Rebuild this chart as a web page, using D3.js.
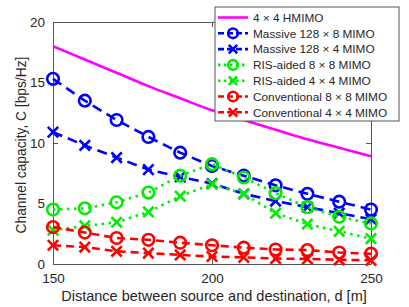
<!DOCTYPE html>
<html>
<head>
<meta charset="utf-8">
<script src="https://cdn.jsdelivr.net/npm/d3@7"></script>
<style>
  body { margin: 0; background: #fff; }
  svg { display: block; font-family: "Liberation Sans", Arial, sans-serif; }
</style>
</head>
<body>
<div id="chart"></div>
<script>
// data
const distances = [150, 160, 170, 180, 190, 200, 210, 220, 230, 240, 250];
const hmimo4x4     = [18.0, 16.9, 15.8, 14.7, 13.7, 12.7, 11.9, 11.1, 10.3, 9.6, 8.9];
const massive128x8 = [15.3, 13.5, 11.9, 10.5, 9.2, 8.1, 7.3, 6.5, 5.8, 5.15, 4.5];
const massive128x4 = [10.9, 9.8, 8.8, 7.8, 7.2, 6.65, 5.8, 5.2, 4.7, 4.2, 3.7];
const ris8x8       = [4.5, 4.6, 5.1, 5.9, 7.3, 8.25, 7.15, 5.85, 4.7, 3.9, 3.35];
const ris4x4       = [2.8, 3.15, 3.45, 4.3, 5.6, 6.6, 5.8, 4.2, 3.3, 2.7, 2.1];
const conv8x8      = [3.05, 2.6, 2.15, 2.0, 1.76, 1.55, 1.35, 1.2, 1.15, 0.95, 0.85];
const conv4x4      = [1.55, 1.4, 1.05, 0.9, 0.75, 0.62, 0.55, 0.45, 0.42, 0.35, 0.3];
const xTicks = [150, 200, 250];
const yTicks = [0, 5, 10, 15, 20];

const series = [
    { name: "4 \u00d7 4 HMIMO", values: hmimo4x4, color: "#ff00ff", dash: null, marker: null },
    { name: "Massive 128 \u00d7 8 MIMO", values: massive128x8, color: "#0000ff", dash: "10,6", marker: "o" },
    { name: "Massive 128 \u00d7 4 MIMO", values: massive128x4, color: "#0000ff", dash: "10,6", marker: "x" },
    { name: "RIS-aided 8 \u00d7 8 MIMO", values: ris8x8, color: "#00ee00", dash: "2.5,4.5", marker: "o" },
    { name: "RIS-aided 4 \u00d7 4 MIMO", values: ris4x4, color: "#00ee00", dash: "2.5,4.5", marker: "x" },
    { name: "Conventional 8 \u00d7 8 MIMO", values: conv8x8, color: "#ff0000", dash: "8,5", marker: "o" },
    { name: "Conventional 4 \u00d7 4 MIMO", values: conv4x4, color: "#ff0000", dash: "8,5", marker: "x" }
];

const W = 409, H = 307;
const margin = { left: 53, right: 38, top: 22, bottom: 43 };
const width = W - margin.left - margin.right;
const height = H - margin.top - margin.bottom;
const axisColor = "#555";
const textColor = "#262626";

const svgRoot = d3.select("#chart").append("svg")
    .attr("width", W)
    .attr("height", H);

const svg = svgRoot.append("g")
    .attr("transform", "translate(" + margin.left + "," + margin.top + ")");

const x = d3.scaleLinear().domain([150, 250]).range([0, width]);
const y = d3.scaleLinear().domain([0, 20]).range([height, 0]);

// axes box with inward ticks on all sides
svg.append("g")
    .attr("transform", "translate(0," + height + ")")
    .call(d3.axisBottom(x).tickValues(xTicks).tickSizeInner(-5).tickSizeOuter(0).tickPadding(9))
    .call(g => g.selectAll("text").attr("font-size", 13.5).attr("fill", textColor));
svg.append("g")
    .call(d3.axisTop(x).tickValues(xTicks).tickSizeInner(-5).tickSizeOuter(0).tickFormat(""));
svg.append("g")
    .call(d3.axisLeft(y).tickValues(yTicks).tickSizeInner(-5).tickSizeOuter(0).tickPadding(8))
    .call(g => g.selectAll("text").attr("font-size", 13.5).attr("fill", textColor));
svg.append("g")
    .attr("transform", "translate(" + width + ",0)")
    .call(d3.axisRight(y).tickValues(yTicks).tickSizeInner(-5).tickSizeOuter(0).tickFormat(""));
svg.selectAll(".domain, .tick line").attr("stroke", axisColor);
svg.selectAll(".tick text").attr("font-family", "Liberation Sans, Arial, sans-serif");

// axis labels
svg.append("text")
    .attr("x", width / 2 + 2)
    .attr("y", height + 37)
    .attr("text-anchor", "middle")
    .attr("font-size", 14.5)
    .attr("fill", textColor)
    .text("Distance between source and destination, d [m]");

svg.append("text")
    .attr("transform", "rotate(-90)")
    .attr("x", -height / 2 - 2)
    .attr("y", -27)
    .attr("text-anchor", "middle")
    .attr("font-size", 13.8)
    .attr("fill", textColor)
    .text("Channel capacity, C [bps/Hz]");

function drawMarker(g, type, cx, cy, color, r) {
    if (type === "o") {
        g.append("circle")
            .attr("cx", cx).attr("cy", cy).attr("r", r)
            .attr("fill", "none").attr("stroke", color).attr("stroke-width", 2.6);
    } else if (type === "x") {
        g.append("path")
            .attr("d", "M" + (cx - r) + "," + (cy - r) + "L" + (cx + r) + "," + (cy + r) +
                       "M" + (cx - r) + "," + (cy + r) + "L" + (cx + r) + "," + (cy - r))
            .attr("fill", "none").attr("stroke", color).attr("stroke-width", 2.6);
    }
}

const line = d3.line()
    .x((d, i) => x(distances[i]))
    .y(d => y(d));

series.forEach(s => {
    const g = svg.append("g");
    g.append("path")
        .datum(s.values)
        .attr("d", s.marker ? line : line.curve(d3.curveMonotoneX))
        .attr("fill", "none")
        .attr("stroke", s.color)
        .attr("stroke-width", 2.6)
        .attr("stroke-dasharray", s.dash);
    line.curve(d3.curveLinear);
    if (s.marker) {
        s.values.forEach((v, i) => {
            drawMarker(g, s.marker, x(distances[i]), y(v), s.color, s.marker === "o" ? 5.8 : 5.2);
        });
    }
});

// legend
const legend = svgRoot.append("g").attr("transform", "translate(215,7)");
legend.append("rect")
    .attr("width", 184)
    .attr("height", 114)
    .attr("fill", "#fff")
    .attr("stroke", axisColor)
    .attr("stroke-width", 1);

series.forEach((s, i) => {
    const cy = 10.5 + i * 15.8;
    const row = legend.append("g");
    row.append("line")
        .attr("x1", 3).attr("x2", 33)
        .attr("y1", cy).attr("y2", cy)
        .attr("stroke", s.color)
        .attr("stroke-width", 2.6)
        .attr("stroke-dasharray", s.dash ? (s.marker && s.dash.startsWith("2.5") ? "2.5,3.5" : "6,3") : null);
    if (s.marker) drawMarker(row, s.marker, 18, cy, s.color, s.marker === "o" ? 4.8 : 4.2);
    row.append("text")
        .attr("x", 38)
        .attr("y", cy)
        .attr("dy", "0.36em")
        .attr("font-size", 11.8)
        .attr("fill", textColor)
        .text(s.name);
});
</script>
</body>
</html>
